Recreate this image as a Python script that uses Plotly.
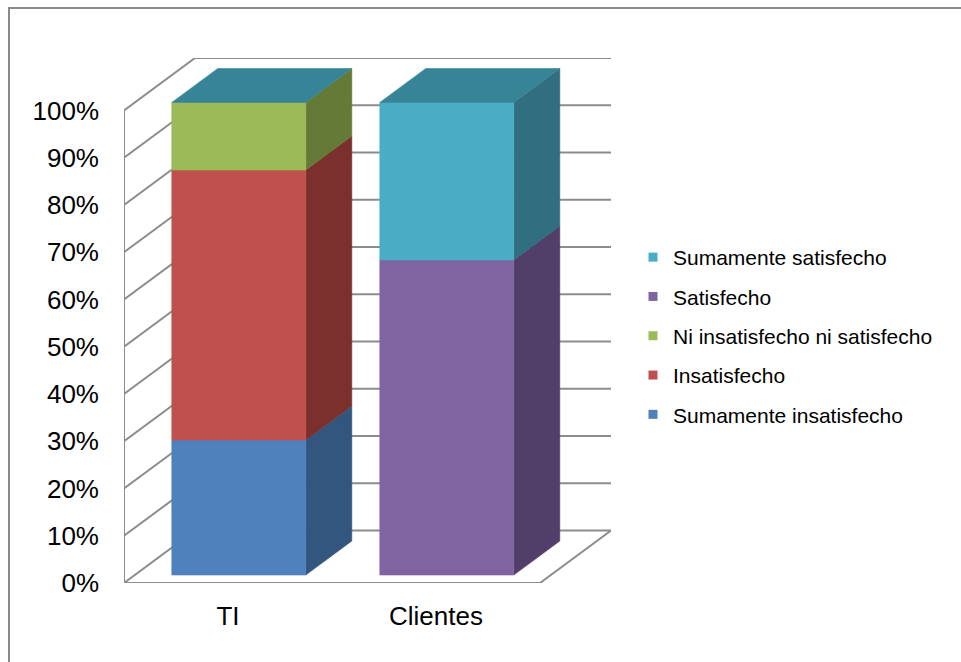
import plotly.graph_objects as go

# ---- data (percent of responses per group, 100% stacked) ----
categories = ["TI", "Clientes"]
series_names = [
    "Sumamente insatisfecho",
    "Insatisfecho",
    "Ni insatisfecho ni satisfecho",
    "Satisfecho",
    "Sumamente satisfecho",
]
sumamente_insatisfecho = [28.57, 0.0]
insatisfecho = [57.14, 0.0]
ni_insatisfecho_ni_satisfecho = [14.29, 0.0]
satisfecho = [0.0, 66.67]
sumamente_satisfecho = [0.0, 33.33]
series_values = [
    sumamente_insatisfecho,
    insatisfecho,
    ni_insatisfecho_ni_satisfecho,
    satisfecho,
    sumamente_satisfecho,
]
y_ticks = [0, 10, 20, 30, 40, 50, 60, 70, 80, 90, 100]
y_tick_labels = ["0%", "10%", "20%", "30%", "40%", "50%", "60%", "70%", "80%", "90%", "100%"]

# ---- styling ----
front_colors = ["#4F81BD", "#C0504D", "#9BBB59", "#8064A2", "#4BACC6"]
side_colors = ["#33567F", "#7B302E", "#657A36", "#523F69", "#316F80"]
top_colors = ["#3C6592", "#943C3A", "#7A9446", "#654F80", "#388497"]
grid_color = "#8C8C8C"
font_family = "Liberation Sans, Arial, sans-serif"

# ---- pseudo-3D projection (x in category units, y in percent units) ----
PX_PER_CAT = 208.0
DEPTH_X = 71.0 / PX_PER_CAT   # horizontal shift of the full floor depth
DEPTH_Y = 11.1                # vertical shift of the full floor depth
BAR_FRONT = 0.152             # bar front face, fraction of floor depth
BAR_BACK = 0.80               # bar back face, fraction of floor depth
BAR_WIDTH = 134.0 / PX_PER_CAT
X_LEFT = -0.5
X_RIGHT = len(categories) - 0.5

# plot-area placement in pixels
W, H = 961, 662
PLOT_L, PLOT_T, PLOT_B = 124, 58, 583
PLOT_R = PLOT_L + (X_RIGHT + DEPTH_X - X_LEFT) * PX_PER_CAT


def proj(x, y, d):
    """Point at front-plane (x, y) pushed back by depth fraction d."""
    return x + d * DEPTH_X, y + d * DEPTH_Y


fig = go.Figure()


def add_line(points):
    xs, ys = zip(*points)
    fig.add_trace(go.Scatter(
        x=list(xs), y=list(ys), mode="lines",
        line=dict(color=grid_color, width=2),
        hoverinfo="skip", showlegend=False, cliponaxis=False,
    ))


def add_face(points, color):
    xs, ys = zip(*points)
    fig.add_trace(go.Scatter(
        x=list(xs) + [xs[0]], y=list(ys) + [ys[0]], mode="lines",
        fill="toself", fillcolor=color,
        line=dict(color=color, width=0.6),
        hoverinfo="skip", showlegend=False, cliponaxis=False,
    ))


# walls and floor
for v in y_ticks:
    # back wall gridline
    add_line([proj(X_LEFT, v, 1), proj(X_RIGHT, v, 1)])
    # side wall gridline
    add_line([proj(X_LEFT, v, 0), proj(X_LEFT, v, 1)])
add_line([proj(X_LEFT, y_ticks[0], 0), proj(X_LEFT, y_ticks[-1], 0)])
add_line([proj(X_LEFT, 0, 0), proj(X_RIGHT, 0, 0), proj(X_RIGHT, 0, 1)])

# stacked columns
for ci, cat in enumerate(categories):
    xl = ci - BAR_WIDTH / 2
    xr = ci + BAR_WIDTH / 2
    base = 0.0
    for si, vals in enumerate(series_values):
        v = vals[ci]
        top = base + v
        if v > 0:
            add_face([proj(xr, base, BAR_FRONT), proj(xr, base, BAR_BACK),
                      proj(xr, top, BAR_BACK), proj(xr, top, BAR_FRONT)],
                     side_colors[si])
            add_face([proj(xl, base, BAR_FRONT), proj(xr, base, BAR_FRONT),
                      proj(xr, top, BAR_FRONT), proj(xl, top, BAR_FRONT)],
                     front_colors[si])
        base = top
    # the lid belongs to the last series of the stack
    add_face([proj(xl, base, BAR_FRONT), proj(xr, base, BAR_FRONT),
              proj(xr, base, BAR_BACK), proj(xl, base, BAR_BACK)],
             top_colors[-1])

# legend entries, listed top to bottom
for si in reversed(range(len(series_names))):
    fig.add_trace(go.Scatter(
        x=[None], y=[None], mode="markers", name=series_names[si],
        legendgroup=series_names[si],
        marker=dict(symbol="square", size=9, color=front_colors[si]),
    ))

plot_w = PLOT_R - PLOT_L
plot_h = PLOT_B - PLOT_T


def px_to_paper(px, py):
    return (px - PLOT_L) / plot_w, (PLOT_B - py) / plot_h


bx0, by0 = px_to_paper(9, 8)
bx1, by1 = px_to_paper(W + 40, H + 40)
lgx, lgy = px_to_paper(633, 237)

fig.update_layout(
    width=W, height=H,
    margin=dict(l=PLOT_L, r=W - PLOT_R, t=PLOT_T, b=H - PLOT_B, autoexpand=False),
    paper_bgcolor="white", plot_bgcolor="white",
    font=dict(family=font_family, color="#000000"),
    showlegend=True,
    legend=dict(
        x=lgx, y=lgy, xanchor="left", yanchor="top",
        traceorder="grouped", tracegroupgap=9,
        font=dict(size=21, color="#000000"),
        bgcolor="rgba(0,0,0,0)", itemclick=False, itemdoubleclick=False,
    ),
    xaxis=dict(
        range=[X_LEFT, X_RIGHT + DEPTH_X],
        tickvals=list(range(len(categories))), ticktext=categories,
        showgrid=False, zeroline=False, showline=False, ticks="",
        tickfont=dict(size=26), ticklabelstandoff=15, fixedrange=True,
    ),
    yaxis=dict(
        range=[0, y_ticks[-1] + DEPTH_Y],
        tickvals=y_ticks, ticktext=y_tick_labels,
        showgrid=False, zeroline=False, showline=False, ticks="",
        tickfont=dict(size=26), ticklabelstandoff=24, fixedrange=True,
    ),
    shapes=[dict(
        type="rect", xref="paper", yref="paper",
        x0=bx0, y0=by0, x1=bx1, y1=by1,
        line=dict(color="#8A8A8A", width=2), layer="below",
    )],
)

fig.write_html("out.html")
